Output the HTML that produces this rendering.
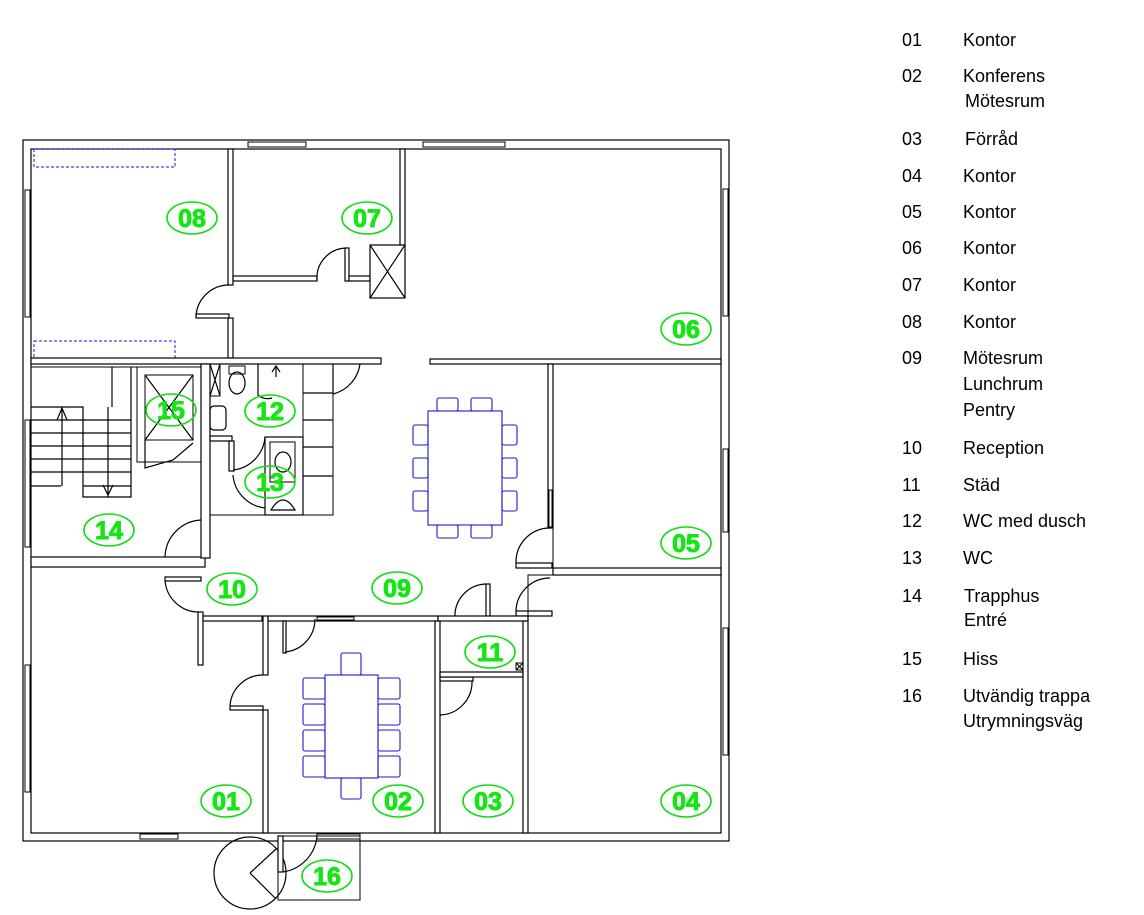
<!DOCTYPE html>
<html><head><meta charset="utf-8"><style>
body{margin:0;background:#fff;}
svg{display:block}
.w{fill:#fff;stroke:#000;stroke-width:1.2}
.l{fill:none;stroke:#000;stroke-width:1.2}
.b{fill:none;stroke:#1a1acc;stroke-width:1.1}
.g ellipse{fill:none;stroke:#10dd10;stroke-width:1.6}
.g text{fill:#14e614;font:900 25px "Liberation Sans",sans-serif;text-anchor:middle;stroke:#14e614;stroke-width:1}
.lg{font:18px "Liberation Sans",sans-serif;fill:#000}
</style></head><body>
<svg width="1144" height="915" viewBox="0 0 1144 915">
<rect x="23" y="140" width="706" height="701" class="w"/>
<rect x="31" y="149" width="690" height="684" class="w"/>
<g fill="#fff" stroke="#000" stroke-width="1">
<rect x="248" y="142" width="58" height="5"/><rect x="423" y="142" width="82" height="5"/>
<rect x="25" y="190" width="5" height="127"/><rect x="25" y="420" width="5" height="127"/><rect x="25" y="665" width="5" height="127"/>
<rect x="723" y="189" width="5" height="127"/><rect x="723" y="449" width="5" height="83"/><rect x="723" y="628" width="5" height="127"/>
<rect x="140" y="834" width="38" height="5"/><rect x="317" y="834" width="43" height="5"/>
</g>
<rect x="34" y="149" width="141" height="18" fill="none" stroke="#1a1acc" stroke-dasharray="3,2"/>
<rect x="34" y="341" width="141" height="17" fill="none" stroke="#1a1acc" stroke-dasharray="3,2"/>
<rect x="228" y="149" width="5" height="136" class="w"/>
<rect x="228" y="318" width="5" height="40" class="w"/>
<rect x="196" y="314" width="33" height="4" class="w"/>
<path d="M196,317 A33,33 0 0 1 229,285" class="l"/>
<rect x="233" y="276" width="84" height="5" class="w"/>
<path d="M317,280 A30,30 0 0 1 346,248" class="l"/>
<rect x="345" y="248" width="4" height="33" class="w"/>
<rect x="349" y="276" width="21" height="5" class="w"/>
<rect x="370" y="245" width="35" height="53" class="w"/>
<path d="M370,245 L405,298 M405,245 L370,298" class="l"/>
<rect x="400" y="149" width="5" height="96" class="w"/>
<rect x="31" y="358" width="350" height="6" class="w"/>
<rect x="430" y="359" width="291" height="5" class="w"/>
<rect x="548" y="364" width="5" height="164" class="w"/>
<rect x="549" y="490" width="3" height="37" fill="#fff" stroke="#000"/>
<rect x="553" y="364" width="168" height="204" fill="none" stroke="#000"/>
<rect x="516" y="563" width="36" height="5" class="w"/>
<path d="M516,563 A34,34 0 0 1 550,528" class="l"/>
<rect x="553" y="568" width="168" height="7" class="w"/>
<rect x="516" y="611" width="36" height="5" class="w"/>
<path d="M516,611 A34,34 0 0 1 550,578" class="l"/>
<rect x="528" y="575" width="193" height="258" fill="none" stroke="#000"/>
<rect x="31" y="367" width="170" height="190" fill="none" stroke="#000"/>
<rect x="31" y="557" width="174" height="10" class="w"/>
<rect x="137" y="367" width="64" height="95" fill="none" stroke="#000"/>
<rect x="145" y="375" width="48" height="65" fill="none" stroke="#000"/>
<path d="M145,375 L193,440 M193,375 L145,440" class="l"/>
<path d="M145,440 L145,468 L173,460 L193,443" class="l"/>
<path d="M131,367 L131,497 L83,497 L83,407 L31,407" class="l"/>
<path d="M112,367 L112,407" class="l"/>
<g class="l"><path d="M31,420 H131 M31,433 H131 M31,446 H131 M31,459 H131 M31,472 H131 M31,486 H61 M83,486 H131 M62,407 V486 M57,420 L62,408 L67,420 M108,407 V497 M103,485 L108,495 L113,485"/></g>
<rect x="201" y="364" width="9" height="194" class="w"/>
<path d="M165,557 A38,38 0 0 1 201,520" class="l"/>
<rect x="210" y="364" width="93" height="151" fill="none" stroke="#000"/>
<rect x="210" y="364" width="10" height="32" fill="none" stroke="#000"/>
<path d="M210,364 L220,396 M220,364 L210,396" class="l"/>
<rect x="229" y="366" width="16" height="8" fill="none" stroke="#000"/>
<ellipse cx="237" cy="383" rx="8" ry="11" class="l"/>
<path d="M258,364 V395 A15,15 0 0 0 272,398" class="l"/>
<path d="M272,372 L276,366 L280,372 M276,366 V377" class="l"/>
<rect x="210" y="406" width="16" height="24" rx="4" class="l"/>
<rect x="210" y="436" width="22" height="5" class="w"/>
<rect x="229" y="441" width="5" height="30" class="w"/>
<path d="M233,470 A36,36 0 0 0 265,437" class="l"/>
<path d="M233,475 A36,36 0 0 0 266,508" class="l"/>
<rect x="265" y="437" width="38" height="78" class="w"/>
<rect x="270" y="442" width="25" height="40" fill="none" stroke="#000"/>
<ellipse cx="283" cy="462" rx="8" ry="10" class="l"/>
<path d="M271,510 Q283,490 295,510 Z" class="l"/>
<rect x="303" y="364" width="30" height="151" fill="none" stroke="#000"/>
<path d="M303,393 H333 M303,420 H333 M303,447 H333 M303,476 H333 M333,364 V393" class="l"/>
<path d="M333,394 A36,36 0 0 0 360,364" class="l"/>
<path d="M165,580 A34,34 0 0 0 199,612" class="l"/>
<rect x="165" y="577" width="36" height="4" class="w"/>
<rect x="198" y="612" width="5" height="53" class="w"/>
<rect x="203" y="616" width="59" height="5" class="w"/>
<rect x="263" y="616" width="5" height="59" class="w"/>
<rect x="230" y="706" width="33" height="4" class="w"/>
<path d="M230,706 A33,33 0 0 1 263,675" class="l"/>
<rect x="263" y="710" width="5" height="123" class="w"/>
<rect x="268" y="616" width="170" height="5" class="w"/>
<rect x="283" y="621" width="3" height="32" class="w"/>
<path d="M285,652 A33,33 0 0 0 315,619" class="l"/>
<rect x="317" y="617" width="37" height="3" fill="#fff" stroke="#000"/>
<rect x="435" y="621" width="5" height="212" class="w"/>
<rect x="440" y="677" width="33" height="4" class="w"/>
<path d="M472,681 A33,33 0 0 1 440,715" class="l"/>
<rect x="440" y="672" width="83" height="5" class="w"/>
<rect x="516" y="663" width="7" height="7" fill="#fff" stroke="#000"/>
<path d="M516,663 L523,670 M523,663 L516,670" class="l"/>
<rect x="523" y="621" width="5" height="212" class="w"/>
<rect x="486" y="584" width="4" height="37" class="w"/>
<path d="M455,618 A32,32 0 0 1 486,584" class="l"/>
<rect x="438" y="616" width="90" height="5" class="w"/>
<circle cx="250" cy="873" r="36" class="l"/>
<path d="M250,873 L276,849 M250,873 L276,899" class="l"/>
<rect x="278" y="836" width="82" height="64" fill="none" stroke="#000"/>
<rect x="278" y="836" width="5" height="36" class="w"/>
<path d="M283,872 A40,40 0 0 0 317,836" class="l"/>
<rect x="428" y="411" width="74" height="114" class="b" fill="#fff"/>
<g class="b">
<rect x="437" y="398" width="21" height="13" rx="2"/><rect x="471" y="398" width="21" height="13" rx="2"/>
<rect x="437" y="525" width="21" height="13" rx="2"/><rect x="471" y="525" width="21" height="13" rx="2"/>
<rect x="413" y="425" width="15" height="20" rx="2"/><rect x="413" y="458" width="15" height="20" rx="2"/><rect x="413" y="491" width="15" height="20" rx="2"/>
<rect x="502" y="425" width="15" height="20" rx="2"/><rect x="502" y="458" width="15" height="20" rx="2"/><rect x="502" y="491" width="15" height="20" rx="2"/>
</g>
<rect x="325" y="675" width="53" height="103" class="b"/>
<g class="b">
<rect x="341" y="653" width="20" height="22" rx="2"/><rect x="341" y="778" width="20" height="21" rx="2"/>
<rect x="303" y="678" width="22" height="21" rx="2"/><rect x="303" y="704" width="22" height="21" rx="2"/><rect x="303" y="730" width="22" height="21" rx="2"/><rect x="303" y="756" width="22" height="21" rx="2"/>
<rect x="378" y="678" width="22" height="21" rx="2"/><rect x="378" y="704" width="22" height="21" rx="2"/><rect x="378" y="730" width="22" height="21" rx="2"/><rect x="378" y="756" width="22" height="21" rx="2"/>
</g>
<g class="g">
<ellipse cx="192" cy="218" rx="25" ry="16"/><text x="192" y="227">08</text>
<ellipse cx="367" cy="218" rx="25" ry="16"/><text x="367" y="227">07</text>
<ellipse cx="686" cy="329" rx="25" ry="16"/><text x="686" y="338">06</text>
<ellipse cx="171" cy="410" rx="25" ry="16"/><text x="171" y="419">15</text>
<ellipse cx="270" cy="411" rx="25" ry="16"/><text x="270" y="420">12</text>
<ellipse cx="270" cy="482" rx="25" ry="16"/><text x="270" y="491">13</text>
<ellipse cx="109" cy="530" rx="25" ry="16"/><text x="109" y="539">14</text>
<ellipse cx="686" cy="543" rx="25" ry="16"/><text x="686" y="552">05</text>
<ellipse cx="232" cy="589" rx="25" ry="16"/><text x="232" y="598">10</text>
<ellipse cx="397" cy="588" rx="25" ry="16"/><text x="397" y="597">09</text>
<ellipse cx="490" cy="652" rx="25" ry="16"/><text x="490" y="661">11</text>
<ellipse cx="226" cy="801" rx="25" ry="16"/><text x="226" y="810">01</text>
<ellipse cx="398" cy="801" rx="25" ry="16"/><text x="398" y="810">02</text>
<ellipse cx="488" cy="801" rx="25" ry="16"/><text x="488" y="810">03</text>
<ellipse cx="686" cy="801" rx="25" ry="16"/><text x="686" y="810">04</text>
<ellipse cx="327" cy="876" rx="25" ry="16"/><text x="327" y="885">16</text>
</g>
<g class="lg">
<text x="902" y="46">01</text><text x="963" y="46">Kontor</text>
<text x="902" y="82">02</text><text x="963" y="82">Konferens</text><text x="965" y="107">Mötesrum</text>
<text x="902" y="145">03</text><text x="965" y="145">Förråd</text>
<text x="902" y="182">04</text><text x="963" y="182">Kontor</text>
<text x="902" y="218">05</text><text x="963" y="218">Kontor</text>
<text x="902" y="254">06</text><text x="963" y="254">Kontor</text>
<text x="902" y="291">07</text><text x="963" y="291">Kontor</text>
<text x="902" y="328">08</text><text x="963" y="328">Kontor</text>
<text x="902" y="364">09</text><text x="963" y="364">Mötesrum</text><text x="963" y="390">Lunchrum</text><text x="963" y="416">Pentry</text>
<text x="902" y="454">10</text><text x="963" y="454">Reception</text>
<text x="902" y="491">11</text><text x="963" y="491">Städ</text>
<text x="902" y="527">12</text><text x="963" y="527">WC med dusch</text>
<text x="902" y="564">13</text><text x="963" y="564">WC</text>
<text x="902" y="602">14</text><text x="964" y="602">Trapphus</text><text x="964" y="626">Entré</text>
<text x="902" y="665">15</text><text x="963" y="665">Hiss</text>
<text x="902" y="702">16</text><text x="963" y="702">Utvändig trappa</text><text x="963" y="727">Utrymningsväg</text>
</g>
</svg>
</body></html>
